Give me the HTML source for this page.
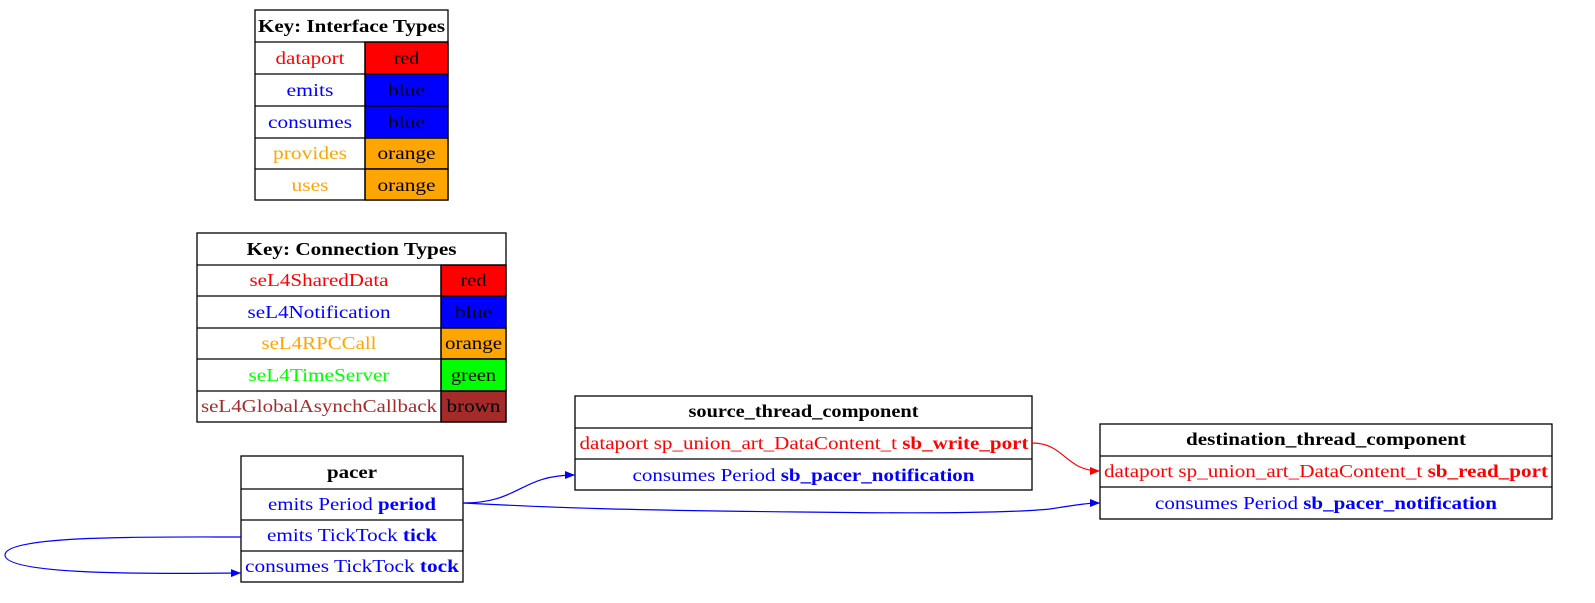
<!DOCTYPE html>
<html><head><meta charset="utf-8"><style>
html,body{margin:0;padding:0;background:#fff;overflow:hidden;width:1595px;height:603px;}
svg{display:block;font-family:"Liberation Serif",serif;}
</style></head><body>
<svg width="1595" height="603" viewBox="0 0 1595 603" xmlns="http://www.w3.org/2000/svg">
<defs>
<marker id="ab" markerWidth="10" markerHeight="8" refX="10" refY="4" orient="auto" markerUnits="userSpaceOnUse"><path d="M0,0 L10,4 L0,8 z" fill="#00f"/></marker>
<marker id="ar" markerWidth="10" markerHeight="8" refX="10" refY="4" orient="auto" markerUnits="userSpaceOnUse"><path d="M0,0 L10,4 L0,8 z" fill="#f00"/></marker>
</defs>
<g stroke="#000" stroke-width="1.3">
<rect x="255" y="10" width="193" height="190" fill="#fff"/>
<rect x="365" y="42" width="83" height="32" fill="#f00"/>
<rect x="365" y="74" width="83" height="32" fill="#00f"/>
<rect x="365" y="106" width="83" height="32" fill="#00f"/>
<rect x="365" y="138" width="83" height="31" fill="#ffa500"/>
<rect x="365" y="169" width="83" height="31" fill="#ffa500"/>
<path d="M255 42H448M255 74H448M255 106H448M255 138H448M255 169H448M365 42V200" fill="none"/>
<rect x="197" y="233" width="309" height="189" fill="#fff"/>
<rect x="441" y="265" width="65" height="31" fill="#f00"/>
<rect x="441" y="296" width="65" height="32" fill="#00f"/>
<rect x="441" y="328" width="65" height="31" fill="#ffa500"/>
<rect x="441" y="359" width="65" height="32" fill="#0f0"/>
<rect x="441" y="391" width="65" height="31" fill="#a52a2a"/>
<path d="M197 265H506M197 296H506M197 328H506M197 359H506M197 391H506M441 265V422" fill="none"/>
<rect x="241" y="456" width="222" height="126" fill="#fff"/>
<path d="M241 489H463M241 520H463M241 551H463" fill="none"/>
<rect x="575" y="396" width="457" height="94" fill="#fff"/>
<path d="M575 428H1032M575 459H1032" fill="none"/>
<rect x="1100" y="424" width="452" height="95" fill="#fff"/>
<path d="M1100 456H1552M1100 487H1552" fill="none"/>
</g>
<g fill="none" stroke-width="1.2">
<path d="M463 503 C520 503 520 475 575 475" stroke="#00f" marker-end="url(#ab)"/>
<path d="M463 503 C560 508 620 510 800 512 C950 514 1020 512 1050 509 C1070 506 1085 503 1100 503" stroke="#00f" marker-end="url(#ab)"/>
<path d="M1032 443 C1065 443 1065 471 1100 471" stroke="#f00" marker-end="url(#ar)"/>
<path d="M241 537 C150 537 5 535 5 555 C5 575 150 574 241 573" stroke="#00f" marker-end="url(#ab)"/>
</g>
<g font-size="18" text-anchor="middle">
<text x="351.5" y="32" font-weight="bold" textLength="187" lengthAdjust="spacingAndGlyphs">Key: Interface Types</text>
<text x="310" y="64" fill="#f00" textLength="69" lengthAdjust="spacingAndGlyphs">dataport</text>
<text x="406.5" y="64" textLength="25" lengthAdjust="spacingAndGlyphs">red</text>
<text x="310" y="96" fill="#00f" textLength="47" lengthAdjust="spacingAndGlyphs">emits</text>
<text x="406.5" y="96" textLength="37" lengthAdjust="spacingAndGlyphs">blue</text>
<text x="310" y="128" fill="#00f" textLength="84" lengthAdjust="spacingAndGlyphs">consumes</text>
<text x="406.5" y="128" textLength="37" lengthAdjust="spacingAndGlyphs">blue</text>
<text x="310" y="159" fill="#ffa500" textLength="74" lengthAdjust="spacingAndGlyphs">provides</text>
<text x="406.5" y="159" textLength="58" lengthAdjust="spacingAndGlyphs">orange</text>
<text x="310" y="191" fill="#ffa500" textLength="37" lengthAdjust="spacingAndGlyphs">uses</text>
<text x="406.5" y="191" textLength="58" lengthAdjust="spacingAndGlyphs">orange</text>

<text x="351.5" y="255" font-weight="bold" textLength="210" lengthAdjust="spacingAndGlyphs">Key: Connection Types</text>
<text x="319" y="286" fill="#f00" textLength="139" lengthAdjust="spacingAndGlyphs">seL4SharedData</text>
<text x="473.5" y="286" textLength="26" lengthAdjust="spacingAndGlyphs">red</text>
<text x="319" y="318" fill="#00f" textLength="143" lengthAdjust="spacingAndGlyphs">seL4Notification</text>
<text x="473.5" y="318" textLength="37" lengthAdjust="spacingAndGlyphs">blue</text>
<text x="319" y="349" fill="#ffa500" textLength="115" lengthAdjust="spacingAndGlyphs">seL4RPCCall</text>
<text x="473.5" y="349" textLength="57" lengthAdjust="spacingAndGlyphs">orange</text>
<text x="319" y="381" fill="#0f0" textLength="141" lengthAdjust="spacingAndGlyphs">seL4TimeServer</text>
<text x="473.5" y="381" textLength="45" lengthAdjust="spacingAndGlyphs">green</text>
<text x="319" y="412" fill="#a52a2a" textLength="236" lengthAdjust="spacingAndGlyphs">seL4GlobalAsynchCallback</text>
<text x="473.5" y="412" textLength="54" lengthAdjust="spacingAndGlyphs">brown</text>

<text x="352" y="478" font-weight="bold" textLength="50" lengthAdjust="spacingAndGlyphs">pacer</text>
<text x="352" y="510" fill="#00f" textLength="168" lengthAdjust="spacingAndGlyphs">emits Period <tspan font-weight="bold">period</tspan></text>
<text x="352" y="541" fill="#00f" textLength="170" lengthAdjust="spacingAndGlyphs">emits TickTock <tspan font-weight="bold">tick</tspan></text>
<text x="352" y="572" fill="#00f" textLength="214" lengthAdjust="spacingAndGlyphs">consumes TickTock <tspan font-weight="bold">tock</tspan></text>

<text x="803.5" y="417" font-weight="bold" textLength="230" lengthAdjust="spacingAndGlyphs">source_thread_component</text>
<text x="804" y="449" fill="#f00" textLength="449" lengthAdjust="spacingAndGlyphs">dataport sp_union_art_DataContent_t <tspan font-weight="bold">sb_write_port</tspan></text>
<text x="803.5" y="481" fill="#00f" textLength="342" lengthAdjust="spacingAndGlyphs">consumes Period <tspan font-weight="bold">sb_pacer_notification</tspan></text>

<text x="1326" y="445" font-weight="bold" textLength="280" lengthAdjust="spacingAndGlyphs">destination_thread_component</text>
<text x="1326" y="477" fill="#f00" textLength="444" lengthAdjust="spacingAndGlyphs">dataport sp_union_art_DataContent_t <tspan font-weight="bold">sb_read_port</tspan></text>
<text x="1326" y="509" fill="#00f" textLength="342" lengthAdjust="spacingAndGlyphs">consumes Period <tspan font-weight="bold">sb_pacer_notification</tspan></text>
</g>
</svg>
</body></html>
